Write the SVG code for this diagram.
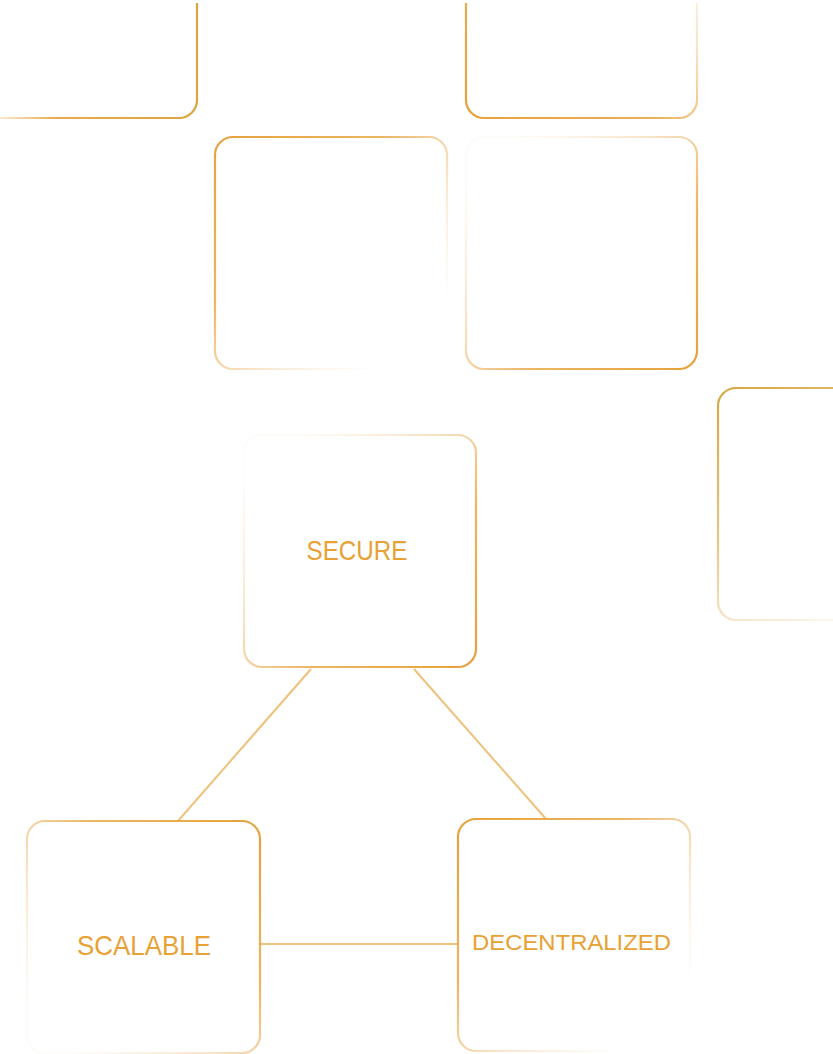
<svg xmlns="http://www.w3.org/2000/svg" width="833" height="1054" viewBox="0 0 833 1054">
  <defs>
    <linearGradient id="gTL" x1="0" y1="0" x2="1" y2="1">
      <stop offset="0" stop-color="#E6A23A" stop-opacity="1"/>
      <stop offset="0.35" stop-color="#E6A23A" stop-opacity="0.8"/>
      <stop offset="0.6" stop-color="#E8B060" stop-opacity="0.3"/>
      <stop offset="0.85" stop-color="#F0C890" stop-opacity="0"/>
    </linearGradient>
    <linearGradient id="gBR" x1="1" y1="1" x2="0" y2="0">
      <stop offset="0" stop-color="#E6A23A" stop-opacity="1"/>
      <stop offset="0.35" stop-color="#E6A23A" stop-opacity="0.8"/>
      <stop offset="0.6" stop-color="#E8B060" stop-opacity="0.35"/>
      <stop offset="0.9" stop-color="#F0C890" stop-opacity="0.05"/>
    </linearGradient>
    <linearGradient id="gTR" x1="1" y1="0" x2="0" y2="1">
      <stop offset="0" stop-color="#E6A23A" stop-opacity="1"/>
      <stop offset="0.35" stop-color="#E6A23A" stop-opacity="0.8"/>
      <stop offset="0.6" stop-color="#E8B060" stop-opacity="0.35"/>
      <stop offset="0.9" stop-color="#F0C890" stop-opacity="0.05"/>
    </linearGradient>
    <linearGradient id="gBL" x1="0" y1="1" x2="1" y2="0">
      <stop offset="0" stop-color="#E6A23A" stop-opacity="1"/>
      <stop offset="0.4" stop-color="#E6A23A" stop-opacity="0.85"/>
      <stop offset="0.65" stop-color="#E8B060" stop-opacity="0.35"/>
      <stop offset="0.9" stop-color="#F0C890" stop-opacity="0.05"/>
    </linearGradient>
    <linearGradient id="gR" x1="0" y1="0" x2="0.6" y2="1">
      <stop offset="0" stop-color="#D9A640" stop-opacity="1"/>
      <stop offset="0.5" stop-color="#DDAE55" stop-opacity="0.7"/>
      <stop offset="1" stop-color="#F0C890" stop-opacity="0.1"/>
    </linearGradient>
    <linearGradient id="gTopL" x1="0" y1="0" x2="1" y2="0">
      <stop offset="0.1" stop-color="#E6A23A" stop-opacity="0.1"/>
      <stop offset="0.4" stop-color="#E6A23A" stop-opacity="0.9"/>
      <stop offset="1" stop-color="#D9A640" stop-opacity="1"/>
    </linearGradient>
    <clipPath id="clipTop">
      <rect x="0" y="3" width="833" height="1051"/>
    </clipPath>
  </defs>
  <style>
    .box { fill: none; stroke-width: 2.2; }
    .lbl { fill: #E8A134; font-family: "Liberation Sans", Arial, sans-serif; text-anchor: middle; }
    .conn { stroke: #EEC27C; stroke-width: 2; fill: none; }
  </style>
  <rect width="833" height="1054" fill="#FFFFFF"/>

  <g id="connectors">
    <line class="conn" x1="311" y1="669" x2="178" y2="821"/>
    <line class="conn" x1="414" y1="669" x2="546" y2="819"/>
    <line class="conn" x1="260" y1="944" x2="458" y2="944"/>
  </g>

  <g id="box-top-left" clip-path="url(#clipTop)">
    <rect class="box" x="-35" y="-114" width="232" height="232" rx="18" stroke="url(#gTopL)"/>
  </g>
  <g id="box-top-right" clip-path="url(#clipTop)">
    <rect class="box" x="466" y="-114" width="231" height="232" rx="18" stroke="url(#gBL)"/>
  </g>
  <g id="box-mid-left">
    <rect class="box" x="215" y="137" width="232" height="232" rx="18" stroke="url(#gTL)"/>
  </g>
  <g id="box-mid-right">
    <rect class="box" x="466" y="137" width="231" height="232" rx="18" stroke="url(#gBR)"/>
  </g>
  <g id="box-far-right">
    <rect class="box" x="718" y="388" width="232" height="232" rx="18" stroke="url(#gR)"/>
  </g>

  <g id="node-secure">
    <rect class="box" x="244" y="435" width="232" height="232" rx="18" stroke="url(#gBR)"/>
    <text class="lbl" x="357" y="560" font-size="28" textLength="101" lengthAdjust="spacingAndGlyphs">SECURE</text>
  </g>
  <g id="node-scalable">
    <rect class="box" x="27" y="821" width="233" height="232" rx="18" stroke="url(#gTR)"/>
    <text class="lbl" x="144" y="955" font-size="28" textLength="134" lengthAdjust="spacingAndGlyphs">SCALABLE</text>
  </g>
  <g id="node-decentralized">
    <rect class="box" x="458" y="819" width="232" height="232" rx="18" stroke="url(#gTL)"/>
    <text class="lbl" x="571.5" y="949.5" font-size="22.5" textLength="199" lengthAdjust="spacingAndGlyphs">DECENTRALIZED</text>
  </g>
</svg>
